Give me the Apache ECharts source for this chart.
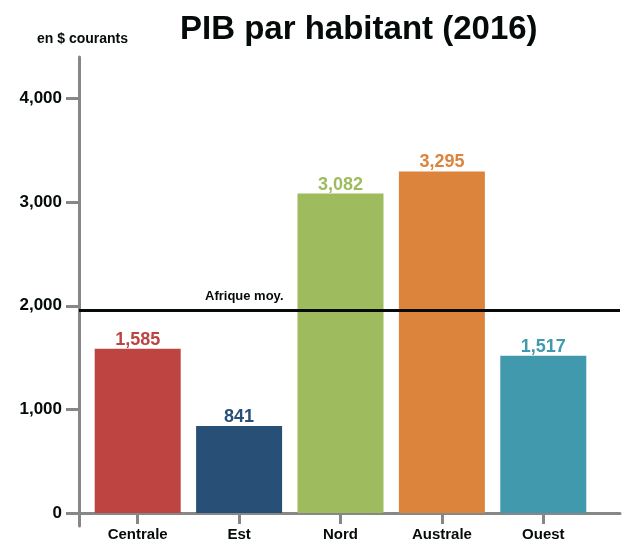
<!DOCTYPE html>
<html><head><meta charset="utf-8">
<script src="https://cdn.jsdelivr.net/npm/echarts@6/dist/echarts.min.js"></script>
<style>html,body{margin:0;padding:0;background:#fff}#c{width:629px;height:548px}</style>
</head><body><div id="c"></div>
<script>
const categories = ["Centrale", "Est", "Nord", "Australe", "Ouest"];
const values = [1585, 841, 3082, 3295, 1517];
const colors = ["#bd4441", "#284f75", "#9ebc5e", "#dd843c", "#4199ae"];
const averageValue = 1961;
const averageLabel = "Afrique moy.";
const yTicks = [0, 1000, 2000, 3000, 4000];
const titleText = "PIB par habitant (2016)";
const unitText = "en $ courants";

const FONT = "Liberation Sans";
const AX = "#878787";
const yMin = -125, yMax = 4400;
const chart = echarts.init(document.getElementById('c'), null, {renderer: 'canvas'});
const fmt = v => v.toLocaleString('en-US');

chart.setOption({
  animation: false,
  backgroundColor: '#fff',
  title: [
    {text: titleText, left: 175, top: 8, textStyle: {fontFamily: FONT, fontWeight: 'bold', fontSize: 33, color: '#050a0a'}},
    {text: unitText, left: 32, top: 27, textStyle: {fontFamily: FONT, fontWeight: 'bold', fontSize: 14, color: '#050a0a'}}
  ],
  grid: [
    {left: 79, right: 9, top: 57, bottom: 22, containLabel: false, outerBoundsMode: 'none'},
    {left: 87, width: 507, top: 57, bottom: 22, containLabel: false, outerBoundsMode: 'none'}
  ],
  xAxis: [
    {type: 'value', gridIndex: 0, min: 0, max: 1, splitLine: {show: false},
     axisLine: {show: true, onZero: true, lineStyle: {color: AX, width: 3}},
     axisTick: {show: false}, axisLabel: {show: false}},
    {type: 'category', gridIndex: 1, data: categories,
     axisLine: {show: false, onZero: true},
     axisTick: {show: true, alignWithLabel: true, length: 11, lineStyle: {color: AX, width: 3}},
     axisLabel: {margin: 1, fontFamily: FONT, fontWeight: 'bold', fontSize: 15, color: '#050a0a'}}
  ],
  yAxis: [
    {type: 'value', gridIndex: 0, min: yMin, max: yMax, splitLine: {show: false},
     axisLine: {show: true, lineStyle: {color: AX, width: 3}},
     axisTick: {show: true, length: 13, customValues: yTicks, lineStyle: {color: AX, width: 3}},
     axisLabel: {margin: 17, customValues: yTicks, formatter: fmt, fontFamily: FONT, fontWeight: 'bold', fontSize: 17, color: '#050a0a'}},
    {type: 'value', gridIndex: 1, min: yMin, max: yMax, show: false, splitLine: {show: false}}
  ],
  series: [
    {type: 'bar', xAxisIndex: 1, yAxisIndex: 1, barWidth: 86,
     data: values.map((v, i) => ({value: v, itemStyle: {color: colors[i]}, label: {color: colors[i]}})),
     label: {show: true, position: 'top', distance: 0, formatter: p => fmt(p.value),
             fontFamily: FONT, fontWeight: 'bold', fontSize: 18}},
    {type: 'line', xAxisIndex: 0, yAxisIndex: 0, data: [], silent: true,
     markLine: {silent: true, symbol: 'none',
       lineStyle: {color: '#050a0a', width: 3, type: 'solid'},
       label: {show: true, position: 'insideStartTop', distance: [126, 7], formatter: averageLabel,
               fontFamily: FONT, fontWeight: 'bold', fontSize: 13, color: '#050a0a'},
       data: [{yAxis: averageValue}]}}
  ]
});
</script></body></html>
